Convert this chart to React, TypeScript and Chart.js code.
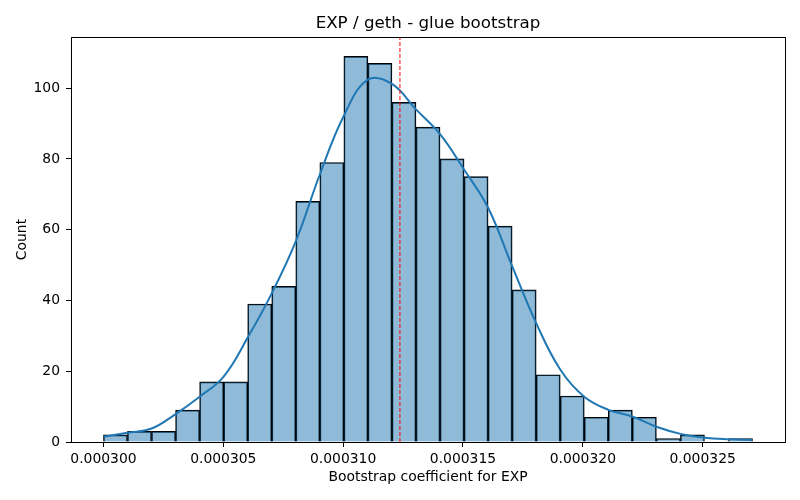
import Chart from "chart.js/auto";
import { useEffect, useRef } from "react";

// histogram: 27 bins from 0.000300 to ~0.0003271
const binStart = 0.0003;
const binWidth = 1.003e-6;
const counts = [
  2, 3, 3, 9, 17, 17, 39, 44, 68, 79, 109, 107, 96, 89, 80, 75, 61, 43, 19, 13,
  7, 9, 7, 1, 2, 0, 1,
];

// kde curve, read at the bin edges
const kdeValues = [
  1.5, 2.6, 3.8, 7.9, 12.8, 18.5, 29.5, 42.0, 56.7, 75.6, 92.2, 102.4, 101.2,
  94.0, 87.0, 77.0, 66.2, 49.7, 33.6, 20.5, 12.8, 9.1, 7.2, 4.3, 2.3, 1.2, 0.75,
  0.55,
];

const meanValue = 0.00031237;
const xTicks = [0.0003, 0.000305, 0.00031, 0.000315, 0.00032, 0.000325];
const yTicks = [0, 20, 40, 60, 80, 100];

const font = "'DejaVu Sans', sans-serif";

export default function App() {
  const canvasRef = useRef<HTMLCanvasElement | null>(null);
  const chartRef = useRef<Chart | null>(null);

  useEffect(() => {
    if (!canvasRef.current) {
      return;
    }
    if (chartRef.current) {
      chartRef.current.destroy();
    }

    const bars = counts.map((c, i) => ({
      x: binStart + (i + 0.5) * binWidth,
      y: c,
    }));
    const kde = kdeValues.map((v, i) => ({ x: binStart + i * binWidth, y: v }));
    const dataMax = binStart + counts.length * binWidth;
    const margin = (dataMax - binStart) * 0.05;
    const yMax = Math.max(...counts) * 1.05;

    const frame = {
      id: "frame",
      afterDraw(chart: Chart) {
        const { ctx, chartArea } = chart;
        ctx.save();
        ctx.strokeStyle = "#000";
        ctx.lineWidth = 1;
        ctx.strokeRect(
          Math.round(chartArea.left) + 0.5,
          Math.round(chartArea.top) + 0.5,
          Math.round(chartArea.right - chartArea.left),
          Math.round(chartArea.bottom - chartArea.top)
        );
        ctx.restore();
      },
    };

    chartRef.current = new Chart(canvasRef.current, {
      type: "bar",
      data: {
        datasets: [
          {
            type: "line",
            data: [
              { x: meanValue, y: 0 },
              { x: meanValue, y: yMax },
            ],
            borderColor: "red",
            borderWidth: 1,
            borderDash: [4, 2],
            pointRadius: 0,
            order: 0,
          },
          {
            type: "line",
            data: kde,
            borderColor: "#1f77b4",
            borderWidth: 2,
            tension: 0.4,
            pointRadius: 0,
            order: 1,
          },
          {
            type: "bar",
            data: bars,
            backgroundColor: "rgba(31,119,180,0.5)",
            borderColor: "#000",
            borderWidth: 1,
            barPercentage: 1,
            categoryPercentage: 1,
            order: 2,
          },
        ],
      },
      options: {
        animation: false,
        responsive: true,
        maintainAspectRatio: false,
        layout: { padding: { left: 0, right: 15, top: 0, bottom: 0 } },
        plugins: {
          legend: { display: false },
          tooltip: { enabled: false },
          title: {
            display: true,
            fullSize: false,
            text: "EXP / geth - glue bootstrap",
            color: "#000",
            font: { family: font, size: 16.7, weight: "normal" },
            padding: { top: 13.5, bottom: 3.5 },
          },
        },
        scales: {
          x: {
            type: "linear",
            offset: false,
            min: binStart - margin,
            max: dataMax + margin,
            grid: {
              offset: false,
              drawOnChartArea: false,
              drawTicks: true,
              tickLength: 5,
              color: "#000",
            },
            border: { display: false },
            afterBuildTicks(scale: any) {
              scale.ticks = xTicks.map((v) => ({ value: v }));
            },
            afterFit(scale: any) {
              scale.height = 58;
            },
            ticks: {
              color: "#000",
              padding: 4,
              maxRotation: 0,
              autoSkip: false,
              font: { family: font, size: 13.9 },
              callback: (v: any) => Number(v).toFixed(6),
            },
            title: {
              display: true,
              text: "Bootstrap coefficient for EXP",
              color: "#000",
              font: { family: font, size: 13.9 },
              padding: { top: 0, bottom: 14 },
            },
          },
          y: {
            min: 0,
            max: yMax,
            grid: {
              drawOnChartArea: false,
              drawTicks: true,
              tickLength: 5,
              color: "#000",
            },
            border: { display: false },
            afterBuildTicks(scale: any) {
              scale.ticks = yTicks.map((v) => ({ value: v }));
            },
            afterFit(scale: any) {
              scale.width = 71;
            },
            ticks: {
              color: "#000",
              padding: 6,
              autoSkip: false,
              font: { family: font, size: 13.9 },
            },
            title: {
              display: true,
              text: "Count",
              color: "#000",
              font: { family: font, size: 13.9 },
              padding: { top: 14, bottom: 0 },
            },
          },
        },
      },
      plugins: [frame],
    } as any);

    return () => {
      chartRef.current?.destroy();
    };
  }, []);

  return (
    <div
      style={{
        position: "absolute",
        left: 0,
        top: 0,
        width: 800,
        height: 500,
        background: "#fff",
      }}
    >
      <canvas ref={canvasRef} />
    </div>
  );
}
